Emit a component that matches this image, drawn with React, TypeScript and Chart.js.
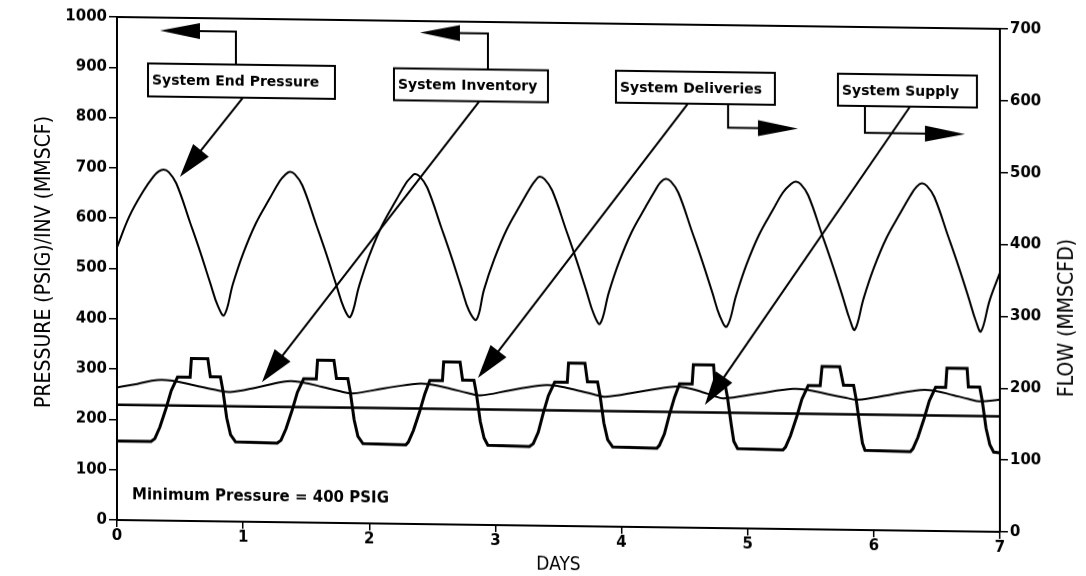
import React, { useEffect, useRef } from "react";
import { Chart, registerables } from "chart.js";

Chart.register(...registerables);

// ---------- DATA ----------
const dayTicks = [0, 1, 2, 3, 4, 5, 6, 7];

// System End Pressure (PSIG, left axis)
const pressureDays = [
  0.0, 0.1, 0.21, 0.29, 0.33, 0.37, 0.41, 0.47, 0.58, 0.66, 0.74, 0.8, 0.85,
  0.92, 1.0, 1.1, 1.21, 1.29, 1.33, 1.37, 1.41, 1.47, 1.58, 1.66, 1.74, 1.8, 1.85,
  1.92, 2.0, 2.1, 2.21, 2.29, 2.33, 2.36, 2.4, 2.46, 2.57, 2.65, 2.73, 2.79, 2.85,
  2.91, 2.99, 3.09, 3.2, 3.28, 3.32, 3.35, 3.39, 3.45, 3.56, 3.64, 3.72, 3.78, 3.83,
  3.9, 3.98, 4.08, 4.19, 4.27, 4.31, 4.35, 4.39, 4.45, 4.56, 4.64, 4.72, 4.78, 4.835,
  4.91, 4.99, 5.09, 5.2, 5.28, 5.34, 5.38, 5.42, 5.48, 5.59, 5.67, 5.75, 5.81, 5.85,
  5.92, 6.0, 6.1, 6.21, 6.29, 6.34, 6.38, 6.42, 6.48, 6.59, 6.67, 6.75, 6.81, 6.85,
  6.92, 7.0,
];
const pressurePsig = [
  542, 605, 655, 684, 694, 698, 693, 671, 593, 535, 473, 428, 410,
  473, 533, 593, 643, 678, 690, 697, 692, 670, 592, 534, 472, 427, 410,
  472, 532, 592, 642, 677, 689, 696, 691, 669, 591, 533, 471, 426, 408,
  468, 528, 588, 638, 673, 687, 694, 689, 667, 589, 531, 469, 422, 403,
  466, 526, 586, 636, 671, 686, 693, 688, 666, 588, 530, 468, 421, 401,
  464, 524, 584, 634, 669, 685, 691, 686, 664, 586, 528, 466, 418, 398,
  461, 521, 581, 631, 666, 684, 691, 686, 664, 586, 528, 466, 418, 398,
  461, 515,
];

// System Inventory (MMSCF, left axis)
const inventoryDays = [
  0.0, 0.16, 0.32, 0.45, 0.62, 0.78, 0.9,
  1.12, 1.35, 1.47, 1.63, 1.77, 1.87,
  2.12, 2.38, 2.5, 2.65, 2.78, 2.88,
  3.12, 3.38, 3.5, 3.65, 3.78, 3.87,
  4.14, 4.41, 4.52, 4.64, 4.73, 4.81,
  5.08, 5.36, 5.48, 5.64, 5.78, 5.87,
  6.12, 6.37, 6.49, 6.63, 6.75, 6.84, 7.0,
];
const inventoryMmscf = [
  263.5, 271, 279.5, 278, 269.5, 261.5, 257.5,
  268, 280.5, 278.5, 270, 262, 258,
  269, 279, 277.5, 269.5, 262, 257.5,
  268.5, 279.5, 278, 270, 262.5, 258,
  269, 280, 278, 270, 263, 258,
  268.5, 278.7, 277, 269, 262.5, 258.8,
  269, 280, 278.5, 270.5, 263.5, 259, 263,
];

// System Deliveries (MMSCFD, right axis)
const deliveryDays = [
  0.0, 0.27, 0.3, 0.34, 0.39, 0.43, 0.48, 0.58, 0.59, 0.72, 0.74, 0.82, 0.84, 0.87, 0.9, 0.94,
  1.27, 1.3, 1.34, 1.39, 1.43, 1.48, 1.58, 1.59, 1.72, 1.74, 1.83, 1.85, 1.88, 1.91, 1.95,
  2.29, 2.31, 2.35, 2.4, 2.44, 2.48, 2.58, 2.59, 2.72, 2.74, 2.83, 2.85, 2.88, 2.91, 2.94,
  3.27, 3.3, 3.34, 3.38, 3.42, 3.47, 3.57, 3.58, 3.71, 3.73, 3.81, 3.83, 3.86, 3.89, 3.93,
  4.28, 4.3, 4.34, 4.38, 4.42, 4.46, 4.56, 4.57, 4.73, 4.74, 4.82, 4.84, 4.87, 4.89, 4.92,
  5.28, 5.3, 5.34, 5.39, 5.43, 5.48, 5.575, 5.59, 5.73, 5.76, 5.84, 5.86, 5.89, 5.91, 5.93,
  6.29, 6.31, 6.35, 6.4, 6.44, 6.49, 6.57, 6.58, 6.74, 6.75, 6.84, 6.86, 6.89, 6.92, 6.95, 7.0,
];
const deliveryMmscfd = [
  110, 110, 114, 130, 157, 181, 200, 200, 226, 226, 201, 201, 182, 144, 121, 111,
  110, 114, 130, 157, 181, 200, 200, 226, 226, 201, 201, 182, 144, 121, 111,
  110, 114, 130, 157, 181, 200, 200, 226, 226, 201, 201, 182, 144, 121, 111,
  110, 114, 130, 157, 181, 200, 200, 227, 227, 201, 201, 182, 144, 121, 111,
  110, 114, 130, 157, 181, 200, 200, 227, 227, 201, 201, 182, 144, 121, 111,
  110, 114, 130, 157, 181, 200, 200, 227, 227, 201, 201, 182, 144, 121, 111,
  110, 114, 130, 157, 181, 200, 200, 227, 227, 201, 201, 182, 144, 121, 111, 110,
];

// System Supply (MMSCFD, right axis)
const supplyDays = [0, 1, 2, 3, 4, 5, 6, 7];
const supplyMmscfd = [160.5, 160.5, 160.7, 160.8, 160.8, 160.8, 160.8, 160.8];

// Text
const labelTexts = ["System End Pressure", "System Inventory", "System Deliveries", "System Supply"];
const minPressureText = "Minimum Pressure = 400 PSIG";
const leftTitle = "PRESSURE (PSIG)/INV (MMSCF)";
const rightTitle = "FLOW (MMSCFD)";
const bottomTitle = "DAYS";

// ---------- helpers ----------
const toXY = (xs: number[], ys: number[]) => xs.map((x, i) => ({ x, y: ys[i] }));
const TITLE_FAMILY = "'Liberation Sans Narrow', 'DejaVu Sans Condensed', 'Liberation Sans'";

function arrowHead(ctx: CanvasRenderingContext2D, fx: number, fy: number, tx: number, ty: number, len: number, half: number) {
  const dx = tx - fx, dy = ty - fy;
  const d = Math.hypot(dx, dy);
  const ux = dx / d, uy = dy / d;
  const bx = tx - ux * len, by = ty - uy * len;
  ctx.beginPath();
  ctx.moveTo(tx, ty);
  ctx.lineTo(bx - uy * half, by + ux * half);
  ctx.lineTo(bx + uy * half, by - ux * half);
  ctx.closePath();
  ctx.fill();
}

const annotationPlugin = {
  id: "annotations",
  afterDraw(chart: any) {
    const { ctx, chartArea, scales } = chart;
    const X = (d: number) => scales.x.getPixelForValue(d);
    const Y = (v: number) => scales.y.getPixelForValue(v);
    ctx.save();
    ctx.strokeStyle = "#000";
    ctx.fillStyle = "#000";
    // top frame
    ctx.lineWidth = 2;
    ctx.beginPath();
    ctx.moveTo(chartArea.left, chartArea.top);
    ctx.lineTo(chartArea.right, chartArea.top);
    ctx.stroke();

    // vertical axis titles (both read bottom-to-top)
    ctx.font = `21px ${TITLE_FAMILY}`;
    ctx.textAlign = "center";
    ctx.textBaseline = "middle";
    ctx.save();
    ctx.translate(chartArea.left - 72, Y(511));
    ctx.rotate(-Math.PI / 2);
    ctx.fillText(leftTitle, 0, 0);
    ctx.restore();
    ctx.save();
    ctx.translate(chartArea.right + 68, Y(427));
    ctx.rotate(-Math.PI / 2);
    ctx.fillText(rightTitle, 0, 0);
    ctx.restore();

    // label boxes
    const boxes = [
      { l: 0.246, r: 1.728, t: 908.5, b: 843, text: labelTexts[0] },
      { l: 2.196, r: 3.417, t: 905.5, b: 842, text: labelTexts[1] },
      { l: 3.956, r: 5.216, t: 906.5, b: 843, text: labelTexts[2] },
      { l: 5.716, r: 6.818, t: 906.5, b: 843, text: labelTexts[3] },
    ];
    ctx.font = "bold 14px 'DejaVu Sans'";
    ctx.textBaseline = "middle";
    ctx.textAlign = "left";
    boxes.forEach((b) => {
      const x0 = X(b.l), x1 = X(b.r), y0 = Y(b.t), y1 = Y(b.b);
      ctx.fillStyle = "#fff";
      ctx.fillRect(x0, y0, x1 - x0, y1 - y0);
      ctx.fillStyle = "#000";
      ctx.lineWidth = 2;
      ctx.strokeRect(x0, y0, x1 - x0, y1 - y0);
      ctx.fillText(b.text, x0 + 4, (y0 + y1) / 2 + 1);
    });

    // elbow leaders pointing toward the axis used
    const leaders = [
      { vx: 0.943, from: 908.5, to: 974, tip: 0.341 },
      { vx: 2.941, from: 905.5, to: 977, tip: 2.402 },
      { vx: 4.845, from: 843, to: 796, tip: 5.399 },
      { vx: 5.93, from: 843, to: 790, tip: 6.723 },
    ];
    ctx.lineWidth = 2;
    leaders.forEach((l) => {
      const vx = X(l.vx), yA = Y(l.from), yB = Y(l.to), tx = X(l.tip);
      const dir = Math.sign(tx - vx);
      ctx.beginPath();
      ctx.moveTo(vx, yA);
      ctx.lineTo(vx, yB);
      ctx.lineTo(tx - dir * 30, yB);
      ctx.stroke();
      arrowHead(ctx, vx, yB, tx, yB, 40, 8);
    });

    // diagonal pointers to curves
    const pointers = [
      { fx: 0.999, fy: 843, tx: 0.499, ty: 684 },
      { fx: 2.87, fy: 841, tx: 1.149, ty: 278 },
      { fx: 4.527, fy: 843, tx: 2.862, ty: 292 },
      { fx: 6.287, fy: 843, tx: 4.661, ty: 244.5 },
    ];
    pointers.forEach((p) => {
      const fx = X(p.fx), fy = Y(p.fy), tx = X(p.tx), ty = Y(p.ty);
      const d = Math.hypot(tx - fx, ty - fy);
      const ex = tx - ((tx - fx) / d) * 25, ey = ty - ((ty - fy) / d) * 25;
      ctx.lineWidth = 2;
      ctx.beginPath();
      ctx.moveTo(fx, fy);
      ctx.lineTo(ex, ey);
      ctx.stroke();
      arrowHead(ctx, fx, fy, tx, ty, 34, 10);
    });

    // minimum pressure note
    ctx.font = "bold 15px 'DejaVu Sans'";
    ctx.textBaseline = "middle";
    ctx.fillText(minPressureText, X(0.119), Y(49.7));
    ctx.restore();
  },
};

export default function App() {
  const ref = useRef<HTMLCanvasElement | null>(null);

  useEffect(() => {
    if (!ref.current) return;
    const tickFont = { family: "'DejaVu Sans'", size: 15, weight: "bold" as const };
    const plain = (v: any) => String(v);
    const chart = new Chart(ref.current, {
      type: "line",
      data: {
        datasets: [
          { label: "System End Pressure", data: toXY(pressureDays, pressurePsig), yAxisID: "y", borderColor: "#000", borderWidth: 2, pointRadius: 0, tension: 0.4 },
          { label: "System Inventory", data: toXY(inventoryDays, inventoryMmscf), yAxisID: "y", borderColor: "#000", borderWidth: 2, pointRadius: 0, tension: 0.4 },
          { label: "System Deliveries", data: toXY(deliveryDays, deliveryMmscfd), yAxisID: "y1", borderColor: "#000", borderWidth: 3, pointRadius: 0, tension: 0 },
          { label: "System Supply", data: toXY(supplyDays, supplyMmscfd), yAxisID: "y1", borderColor: "#000", borderWidth: 2.5, pointRadius: 0, tension: 0 },
        ],
      },
      options: {
        animation: false,
        responsive: false,
        events: [],
        layout: { padding: { top: 17 } },
        plugins: { legend: { display: false }, tooltip: { enabled: false } },
        scales: {
          x: {
            type: "linear",
            min: 0,
            max: 7,
            afterBuildTicks: (s: any) => { s.ticks = dayTicks.map((v) => ({ value: v })); },
            afterFit: (s: any) => { s.height = 56; },
            ticks: { color: "#000", font: tickFont, padding: 0, maxRotation: 0, callback: plain },
            grid: { drawOnChartArea: false, color: "#000", lineWidth: 1.5, tickLength: 7 },
            border: { color: "#000", width: 2 },
            title: { display: true, text: bottomTitle, color: "#000", font: { family: TITLE_FAMILY, size: 19 }, padding: { top: 0, bottom: 6 } },
          },
          y: {
            position: "left",
            min: 0,
            max: 1000,
            ticks: { stepSize: 100, color: "#000", font: tickFont, padding: 2, callback: plain },
            afterFit: (s: any) => { s.width = 117; },
            grid: { drawOnChartArea: false, color: "#000", lineWidth: 1.5, tickLength: 8 },
            border: { color: "#000", width: 2 },
          },
          y1: {
            position: "right",
            min: 0,
            max: 700,
            ticks: { stepSize: 100, color: "#000", font: tickFont, padding: 2, callback: plain },
            afterFit: (s: any) => { s.width = 86; },
            grid: { drawOnChartArea: false, color: "#000", lineWidth: 1.5, tickLength: 8 },
            border: { color: "#000", width: 2 },
          },
        },
      },
      plugins: [annotationPlugin],
    } as any);
    return () => chart.destroy();
  }, []);

  return (
    <div
      style={{
        position: "fixed",
        left: 0,
        top: 0,
        width: 1086,
        height: 576,
        background: "#fff",
        transform: "skewY(0.77deg)",
        transformOrigin: "117px 0px",
      }}
    >
      <canvas ref={ref} width={1086} height={576} style={{ display: "block" }} />
    </div>
  );
}
